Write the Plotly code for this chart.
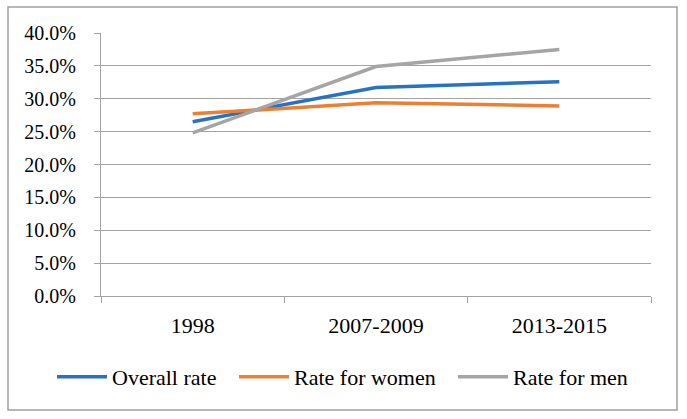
import plotly.graph_objects as go

categories = ["1998", "2007-2009", "2013-2015"]
overall_rate = [0.265, 0.317, 0.326]
rate_women = [0.277, 0.294, 0.289]
rate_men = [0.248, 0.349, 0.375]
y_ticks = [0, 0.05, 0.10, 0.15, 0.20, 0.25, 0.30, 0.35, 0.40]
y_tick_labels = ["0.0%", "5.0%", "10.0%", "15.0%", "20.0%", "25.0%", "30.0%", "35.0%", "40.0%"]

W, H = 687, 419
ML, MR, MT, MB = 101, 36, 33, 123
GRID = "#A3A3A3"
FONT = "Liberation Serif, DejaVu Serif, serif"

series = [("Overall rate", overall_rate, "#2672C3", "legend", 62),
          ("Rate for women", rate_women, "#EF7F30", "legend2", 244),
          ("Rate for men", rate_men, "#A5A5A5", "legend3", 463)]

fig = go.Figure()
for name, vals, col, lg, _ in series:
    fig.add_trace(go.Scatter(x=categories, y=vals, name=name, mode="lines", legend=lg,
                             line=dict(color=col, width=3.5)))

pw, ph = W - ML - MR, H - MT - MB
def px_x(p): return (p - ML) / pw
def px_y(p): return (H - MB - p) / ph

fig.add_shape(type="rect", xref="paper", yref="paper",
              x0=px_x(8), x1=px_x(677), y0=px_y(410), y1=px_y(7),
              line=dict(color="#A0A0A0", width=1.5), fillcolor="rgba(0,0,0,0)", layer="below")

legend_style = dict(orientation="h", xref="container", xanchor="left", yref="container",
                    y=1 - 377 / H, yanchor="middle", font=dict(size=22, family=FONT),
                    itemwidth=50, bgcolor="rgba(0,0,0,0)")
layout_legends = {}
for name, vals, col, lg, xstart in series:
    layout_legends[lg] = dict(legend_style, x=(xstart - 10) / W)

fig.update_layout(
    width=W, height=H, margin=dict(l=ML, r=MR, t=MT, b=MB),
    paper_bgcolor="white", plot_bgcolor="white",
    font=dict(family=FONT, color="black"),
    showlegend=True,
    xaxis=dict(type="category", range=[-0.5, 2.5], showgrid=False, showline=True,
               linecolor=GRID, linewidth=1.3, ticks="outside", tickson="boundaries",
               ticklen=6, tickcolor=GRID, tickwidth=1.3, tickfont=dict(size=22, family=FONT),
               ticklabelstandoff=9, zeroline=False),
    yaxis=dict(range=[0, 0.40], tickvals=y_ticks, ticktext=y_tick_labels, showgrid=True,
               gridcolor=GRID, gridwidth=1.3, showline=True, linecolor=GRID, linewidth=1.3,
               ticks="outside", ticklen=6, tickcolor=GRID, tickwidth=1.3,
               tickfont=dict(size=20, family=FONT), ticklabelstandoff=14, zeroline=False),
    **layout_legends,
)
fig.write_html("out.html", config={"displayModeBar": False},
               post_script="document.body.style.margin='0';")
